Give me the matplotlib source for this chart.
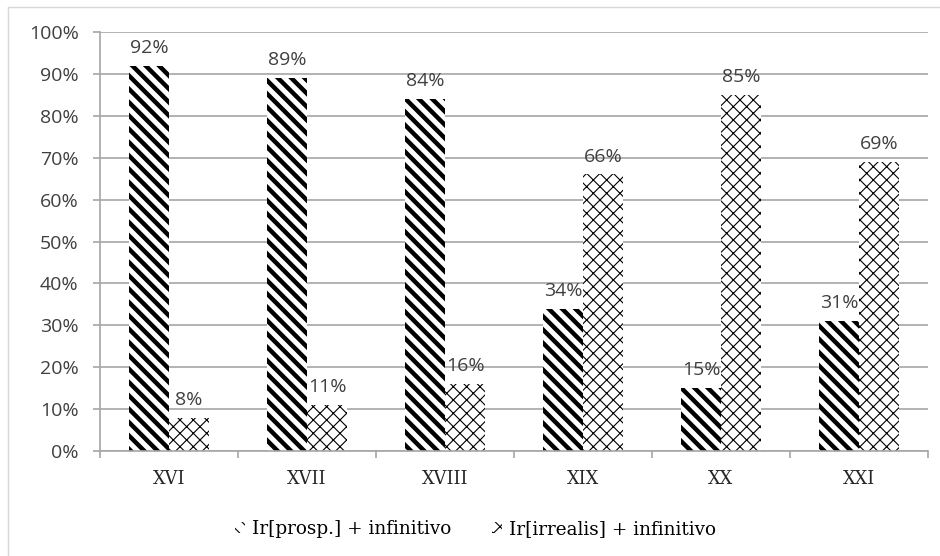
import matplotlib.pyplot as plt
import matplotlib.patches as mpatches
import numpy as np

# siglos y porcentajes
centuries = ['XVI', 'XVII', 'XVIII', 'XIX', 'XX', 'XXI']
prosp = [92, 89, 84, 34, 15, 31]
irrealis = [8, 11, 16, 66, 85, 69]
series_names = ['Ir[prosp.] + infinitivo', 'Ir[irrealis] + infinitivo']

sans = ['Open Sans', 'DejaVu Sans']
serif = ['DejaVu Serif']

# dpi 80 so the hatch lines come out as dense as in the original
DPI = 80
fig = plt.figure(figsize=(940 / DPI, 556 / DPI), dpi=DPI)
ax = fig.add_axes([0.1064, 0.1888, 0.8808, 0.7536])

# outer frame of the chart
fig.patches.append(mpatches.Rectangle((8 / 940, -0.1), 1.1, 1 - 7 / 556 + 0.1,
                                      transform=fig.transFigure, fill=False,
                                      edgecolor='#d9d9d9', linewidth=1.3))

x = np.arange(len(centuries))
w = 0.29

b1 = ax.bar(x - w / 2, prosp, w, color='white', edgecolor='black',
            linewidth=0, hatch='\\\\', zorder=2)
b2 = ax.bar(x + w / 2, irrealis, w, color='white', edgecolor='black',
            linewidth=0, hatch='xx', zorder=2)
for p in b1:
    p.set_hatch_linewidth(4.0)
for p in b2:
    p.set_hatch_linewidth(1.0)

for bars, vals in [(b1, prosp), (b2, irrealis)]:
    for p, v in zip(bars, vals):
        ax.annotate(f'{v}%', (p.get_x() + p.get_width() / 2, v),
                    xytext=(0, 8), textcoords='offset points',
                    ha='center', va='bottom', fontsize=17.5,
                    color='#404040', family=sans)

ax.set_xlim(-0.5, len(centuries) - 0.5)
ax.set_ylim(0, 100)
ax.set_yticks(range(0, 101, 10))
ax.set_yticklabels([f'{t}%' for t in range(0, 101, 10)], family=sans,
                   fontsize=17.5, color='#404040')
ax.yaxis.grid(True, color='#a6a6a6', linewidth=1.5, zorder=0)
ax.set_axisbelow(True)

ax.set_xticks(x)
ax.set_xticklabels(centuries, family=serif, fontsize=16, color='#262626')
ax.set_xticks(np.arange(-0.5, len(centuries)), minor=True)
ax.tick_params(axis='x', which='major', length=0, pad=17)
ax.tick_params(axis='x', which='minor', length=6.3, color='#a6a6a6', width=1.5)
ax.tick_params(axis='y', length=6.3, color='#a6a6a6', width=1.5, pad=13)

for s in ['top', 'right']:
    ax.spines[s].set_visible(False)
for s in ['left', 'bottom']:
    ax.spines[s].set_color('#a6a6a6')
    ax.spines[s].set_linewidth(1.5)

h1 = mpatches.Patch(facecolor='white', edgecolor='black', linewidth=0, hatch='\\\\')
h2 = mpatches.Patch(facecolor='white', edgecolor='black', linewidth=0, hatch='xx')
h1.set_hatch_linewidth(4.0)
h2.set_hatch_linewidth(1.0)
fig.legend([h1, h2], series_names, loc='center', bbox_to_anchor=(0.506, 1 - 529 / 556),
           ncol=2, frameon=False, prop={'family': serif, 'size': 16.5},
           handlelength=0.55, handleheight=0.55, handletextpad=0.4, columnspacing=2.2)

plt.savefig('out.png', dpi=DPI)
